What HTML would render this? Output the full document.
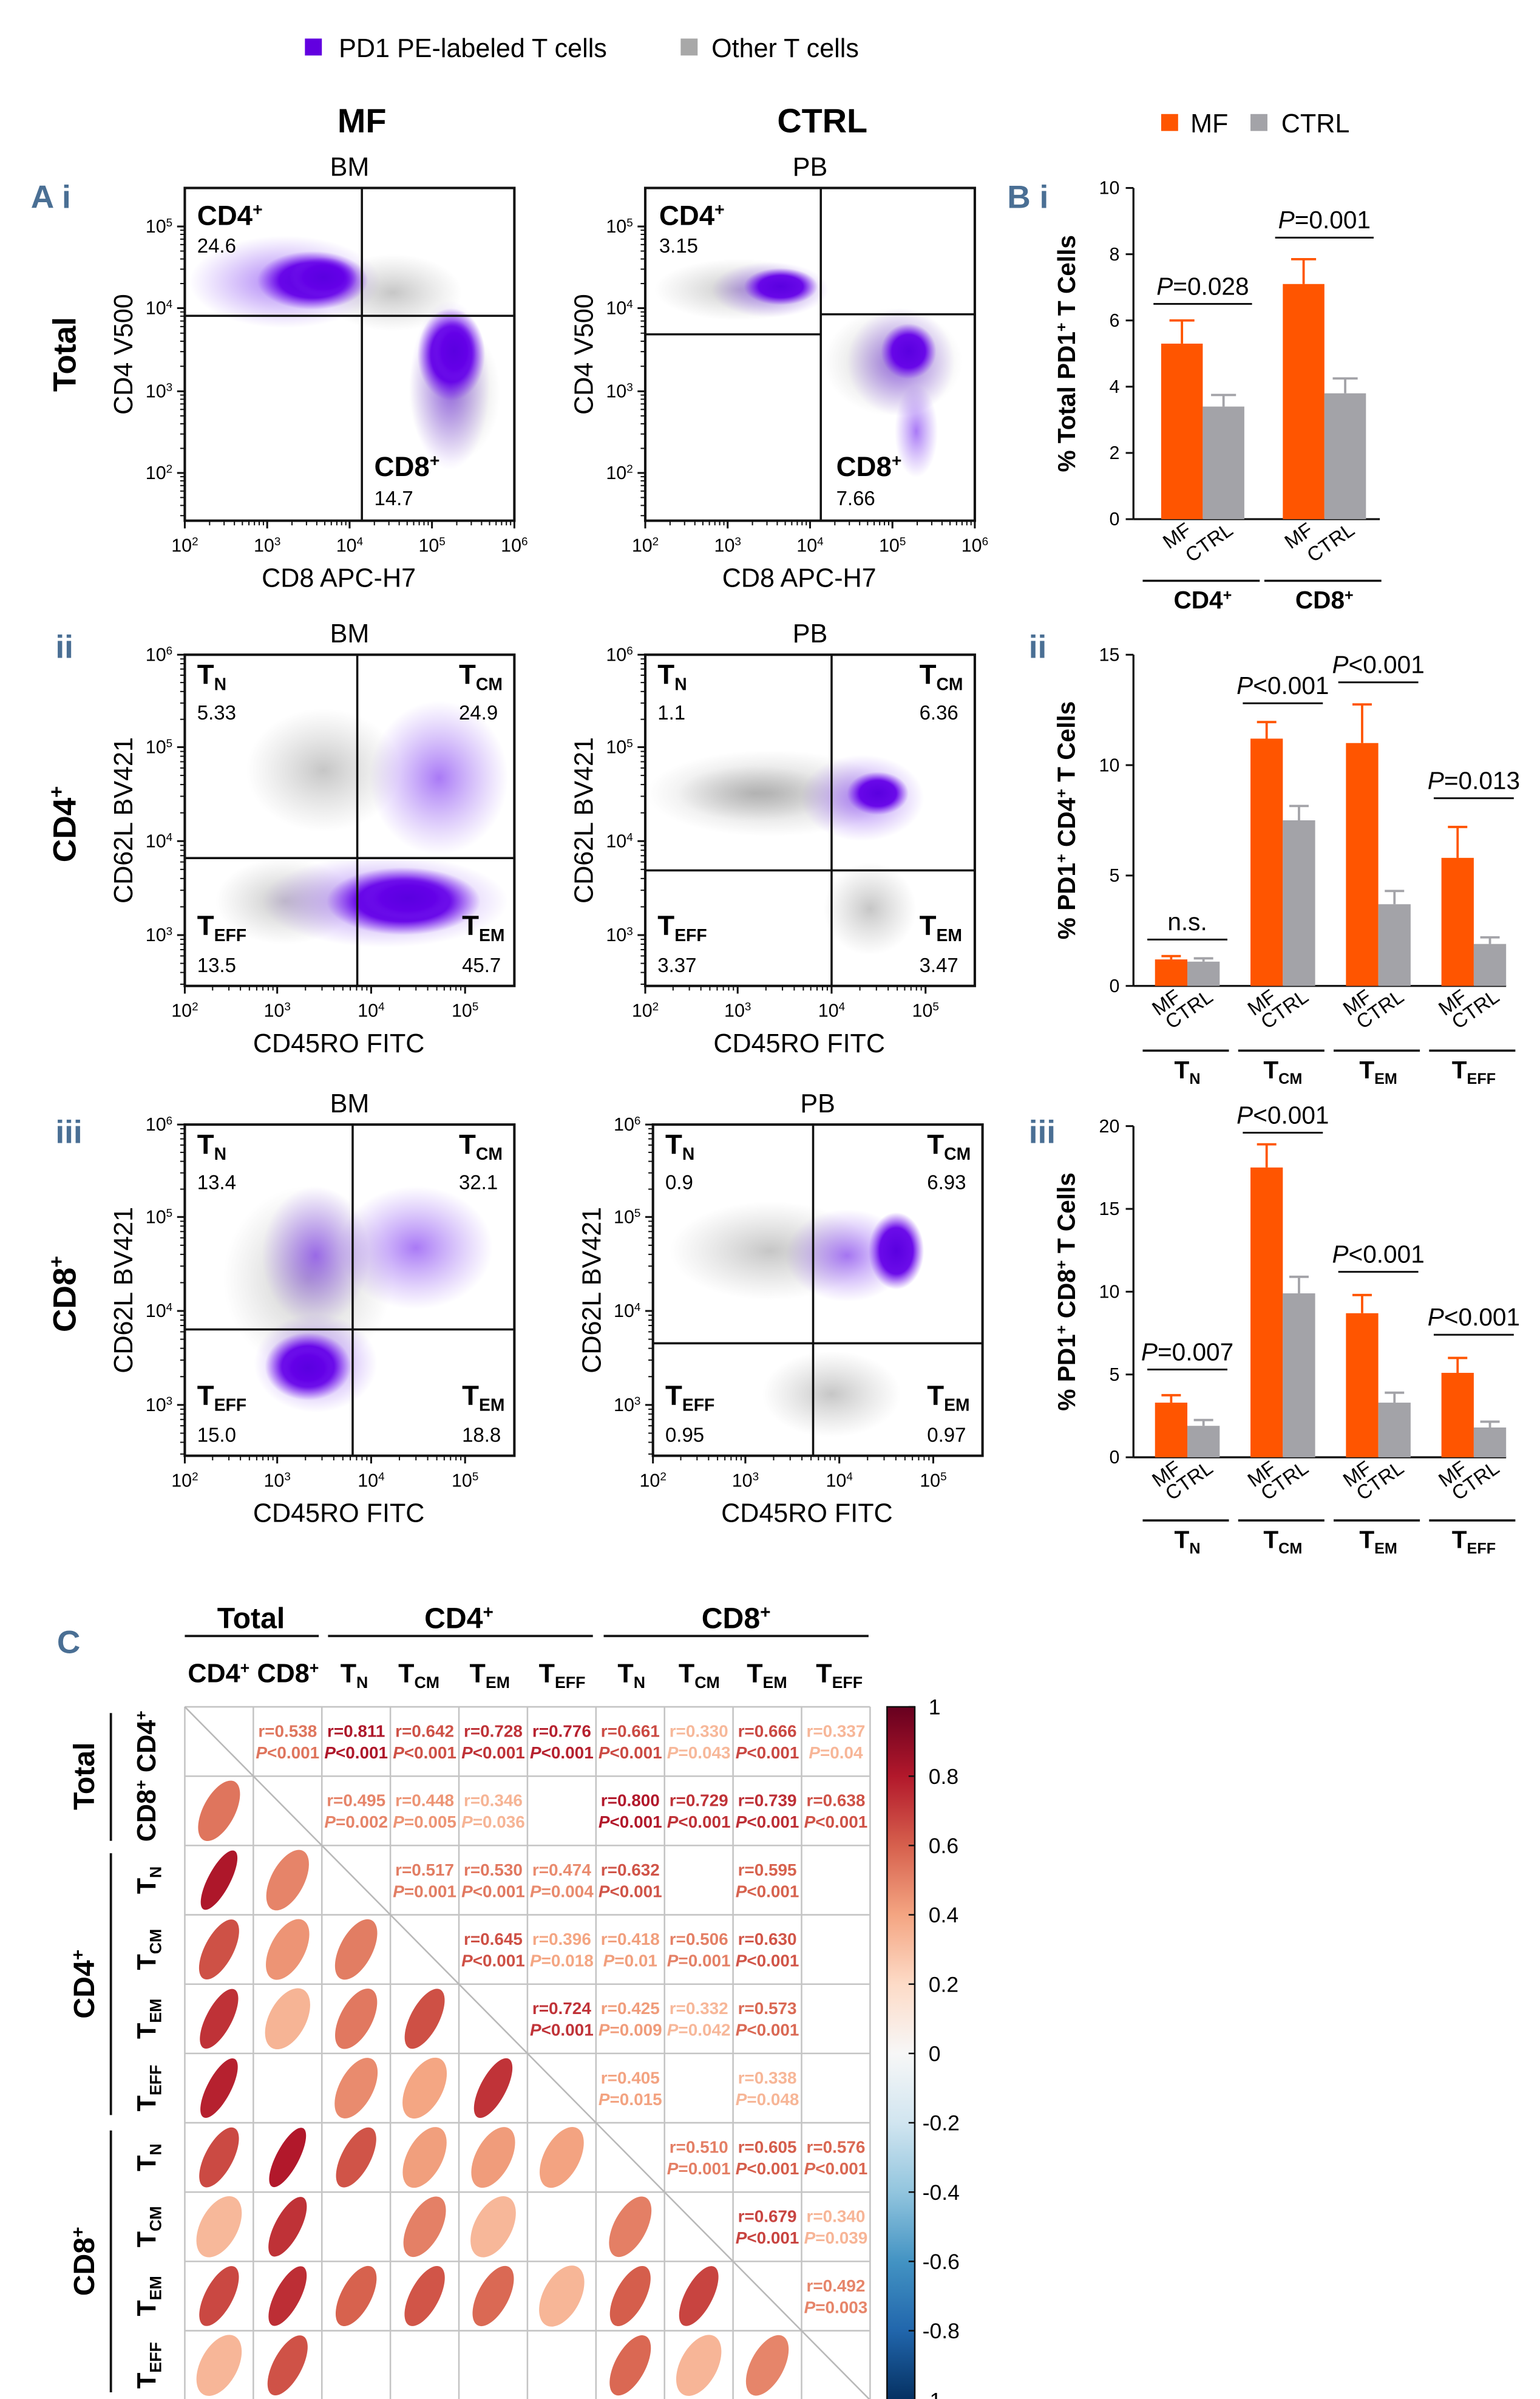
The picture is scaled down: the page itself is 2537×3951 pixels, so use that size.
<!DOCTYPE html>
<html><head><meta charset="utf-8"><style>
html,body{margin:0;padding:0;background:#fff}
svg{display:block}
text{font-family:"Liberation Sans",sans-serif}
.n{font-family:"Liberation Sans Narrow","Liberation Sans",sans-serif}
</style></head><body>
<svg id="fig" xmlns="http://www.w3.org/2000/svg" width="2537" height="3951" viewBox="0 0 1000 1557.3">
<defs>
<radialGradient id="gp"><stop offset="0" stop-color="#5a00e0" stop-opacity="1"/><stop offset="0.6" stop-color="#6400e8" stop-opacity="0.95"/><stop offset="1" stop-color="#7a20f0" stop-opacity="0"/></radialGradient>
<radialGradient id="gpl"><stop offset="0" stop-color="#7020f0" stop-opacity="0.6"/><stop offset="1" stop-color="#8040f0" stop-opacity="0"/></radialGradient>
<radialGradient id="gg"><stop offset="0" stop-color="#a0a0a0" stop-opacity="0.6"/><stop offset="1" stop-color="#b0b0b0" stop-opacity="0"/></radialGradient>
<linearGradient id="cbar" x1="0" y1="0" x2="0" y2="1">
<stop offset="0" stop-color="#67001f"/><stop offset="0.1" stop-color="#b2182b"/><stop offset="0.2" stop-color="#d6604d"/><stop offset="0.3" stop-color="#f4a582"/><stop offset="0.4" stop-color="#fddbc7"/><stop offset="0.5" stop-color="#f7f7f7"/><stop offset="0.6" stop-color="#d1e5f0"/><stop offset="0.7" stop-color="#92c5de"/><stop offset="0.8" stop-color="#4393c3"/><stop offset="0.9" stop-color="#2166ac"/><stop offset="1" stop-color="#053061"/>
</linearGradient>
</defs>
<g id="static">
<rect x="198" y="25" width="11" height="11" fill="#6200e0"/>
<text x="220" y="37" font-size="17">PD1 PE-labeled T cells</text>
<rect x="442" y="25" width="11" height="11" fill="#a8a8a8"/>
<text x="462" y="37" font-size="17">Other T cells</text>
<text x="235" y="86" font-size="22" font-weight="bold" text-anchor="middle">MF</text>
<text x="534" y="86" font-size="22" font-weight="bold" text-anchor="middle">CTRL</text>
<text x="20" y="135" font-size="21" font-weight="bold" fill="#4a6f94" class="n">A i</text>
<text x="654" y="135" font-size="21" font-weight="bold" fill="#4a6f94" class="n">B i</text>
<text x="36" y="427" font-size="21" font-weight="bold" fill="#4a6f94" class="n">ii</text>
<text x="668" y="427" font-size="21" font-weight="bold" fill="#4a6f94" class="n">ii</text>
<text x="36" y="742" font-size="21" font-weight="bold" fill="#4a6f94" class="n">iii</text>
<text x="668" y="742" font-size="21" font-weight="bold" fill="#4a6f94" class="n">iii</text>
<text x="37" y="1073" font-size="21" font-weight="bold" fill="#4a6f94" class="n">C</text>
<text transform="translate(49,230) rotate(-90)" font-size="21" font-weight="bold" text-anchor="middle">Total</text>
<text transform="translate(49,535) rotate(-90)" font-size="21" font-weight="bold" text-anchor="middle">CD4<tspan font-size="13" dy="-8">+</tspan></text>
<text transform="translate(49,840) rotate(-90)" font-size="21" font-weight="bold" text-anchor="middle">CD8<tspan font-size="13" dy="-8">+</tspan></text>
<rect x="754" y="74" width="11" height="11" fill="#ff5500"/>
<text x="773" y="86" font-size="17">MF</text>
<rect x="812" y="74" width="11" height="11" fill="#a3a3a8"/>
<text x="832" y="86" font-size="17">CTRL</text>
</g>
<g id="flow"></g>
<g id="bars"></g>
<g id="corr"></g>
</svg>
<script>
const NS='http://www.w3.org/2000/svg';
function mk(tag,attrs,parent,txt){const e=document.createElementNS(NS,tag);for(const k in attrs)e.setAttribute(k,attrs[k]);if(txt!==undefined)e.textContent=txt;if(parent)parent.appendChild(e);return e;}
function sup(parent,base,s){parent.textContent='';parent.appendChild(document.createTextNode(base));mk('tspan',{'font-size':'62%',dy:'-0.55em'},parent,s);}
function subT(parent,s){parent.textContent='';parent.appendChild(document.createTextNode('T'));mk('tspan',{'font-size':'62%',dy:'0.35em'},parent,s);}

const flowPanels=[
 {name:'total-bm',x0:120,x1:334,y0:122,y1:338,title:'BM',xt:'CD8 APC-H7',yt:'CD4 V500',xexp:[2,3,4,5,6],yexp:[5,4,3,2],yTickY:[147,200,254,307],vx:235,hy:[205,205],
  labels:[['CD4','+',128,146,true],['24.6','',128,164,false],['CD8','+',243,309,true],['14.7','',243,328,false]],
  blobs:[['gg',255,190,45,25],['gpl',185,183,62,30],['gp',203,182,36,19],['gp',210,180,22,13],['gg',295,255,30,45],['gpl',292,250,26,55],['gp',293,230,22,30],['gp',295,228,14,20]]},
 {name:'total-pb',x0:419,x1:633,y0:122,y1:338,title:'PB',xt:'CD8 APC-H7',yt:'CD4 V500',xexp:[2,3,4,5,6],yexp:[5,4,3,2],yTickY:[147,200,254,307],vx:533,hy:[217,204],
  labels:[['CD4','+',428,146,true],['3.15','',428,164,false],['CD8','+',543,309,true],['7.66','',543,328,false]],
  blobs:[['gg',480,188,55,20],['gpl',500,188,38,18],['gp',507,186,24,12],['gg',580,235,45,35],['gpl',585,235,35,35],['gp',590,228,18,18],['gpl',595,280,14,30]]},
 {name:'cd4-bm',x0:120,x1:334,y0:425,y1:640,title:'BM',xt:'CD45RO FITC',yt:'CD62L BV421',xexp:[2,3,4,5],xTickX:[120,180,241,302],yexp:[6,5,4,3],yTickY:[425,485,546,607],vx:232,hy:[557,557],
  labels:[['T','N',128,444,'t'],['5.33','',128,467,false],['T','CM',298,444,'t'],['24.9','',298,467,false],['T','EFF',128,607,'t'],['13.5','',128,631,false],['T','EM',300,607,'t'],['45.7','',300,631,false]],
  blobs:[['gg',210,500,50,40],['gpl',285,505,45,50],['gg',185,585,45,28],['gpl',250,585,80,30],['gp',262,585,50,22],['gp',265,583,30,14]]},
 {name:'cd4-pb',x0:419,x1:633,y0:425,y1:640,title:'PB',xt:'CD45RO FITC',yt:'CD62L BV421',xexp:[2,3,4,5],xTickX:[419,479,540,601],yexp:[6,5,4,3],yTickY:[425,485,546,607],vx:540,hy:[565,565],
  labels:[['T','N',427,444,'t'],['1.1','',427,467,false],['T','CM',597,444,'t'],['6.36','',597,467,false],['T','EFF',427,607,'t'],['3.37','',427,631,false],['T','EM',597,607,'t'],['3.47','',597,631,false]],
  blobs:[['gg',500,515,80,28],['gg',490,515,50,18],['gpl',560,518,40,28],['gp',570,515,20,14],['gg',565,590,30,30]]},
 {name:'cd8-bm',x0:120,x1:334,y0:730,y1:945,title:'BM',xt:'CD45RO FITC',yt:'CD62L BV421',xexp:[2,3,4,5],xTickX:[120,180,241,302],yexp:[6,5,4,3],yTickY:[730,790,851,912],vx:229,hy:[863,863],
  labels:[['T','N',128,749,'t'],['13.4','',128,772,false],['T','CM',298,749,'t'],['32.1','',298,772,false],['T','EFF',128,912,'t'],['15.0','',128,936,false],['T','EM',300,912,'t'],['18.8','',300,936,false]],
  blobs:[['gg',200,830,55,60],['gpl',205,815,35,45],['gpl',270,810,50,40],['gpl',205,885,40,32],['gp',200,887,28,22],['gp',200,888,18,14]]},
 {name:'cd8-pb',x0:424,x1:638,y0:730,y1:945,title:'PB',xt:'CD45RO FITC',yt:'CD62L BV421',xexp:[2,3,4,5],xTickX:[424,484,545,606],yexp:[6,5,4,3],yTickY:[730,790,851,912],vx:528,hy:[872,872],
  labels:[['T','N',432,749,'t'],['0.9','',432,772,false],['T','CM',602,749,'t'],['6.93','',602,772,false],['T','EFF',432,912,'t'],['0.95','',432,936,false],['T','EM',602,912,'t'],['0.97','',602,936,false]],
  blobs:[['gg',500,812,65,32],['gpl',550,815,40,30],['gp',582,812,18,25],['gg',540,905,45,28]]}
];
const flowG=document.getElementById('flow');
flowPanels.forEach(p=>{
  const g=mk('g',{},flowG);
  
  
  const cg=mk('g',{},g);
  p.blobs.forEach(b=>{const e=mk('ellipse',{cx:b[1],cy:b[2],rx:b[3],ry:b[4],fill:'url(#'+b[0]+')'},cg);
    
    });
  const fr=mk('rect',{x:p.x0,y:p.y0,width:p.x1-p.x0,height:p.y1-p.y0,fill:'none',stroke:'#111','stroke-width':1.6},g);
  
  
  const vl=mk('line',{x1:p.vx,x2:p.vx,y1:p.y0,y2:p.y1,stroke:'#111','stroke-width':1.4},g);
  
  
  mk('line',{x1:p.x0,x2:p.vx,y1:p.hy[0],y2:p.hy[0],stroke:'#111','stroke-width':1.4},g);
  mk('line',{x1:p.vx,x2:p.x1,y1:p.hy[1],y2:p.hy[1],stroke:'#111','stroke-width':1.4},g);
  const t=mk('text',{x:(p.x0+p.x1)/2,y:p.y0-8,'font-size':17,'text-anchor':'middle'},g,p.title);
  
  
  const n=p.xexp.length;
  p.xexp.forEach((e,i)=>{const x=p.xTickX?p.xTickX[i]:p.x0+(p.x1-p.x0)*i/(n-1);
    mk('line',{x1:x,x2:x,y1:p.y1,y2:p.y1+5,stroke:'#111','stroke-width':1.2},g);
    if(i<n-1){const nx=p.xTickX?p.xTickX[i+1]:p.x0+(p.x1-p.x0)*(i+1)/(n-1);for(let k=2;k<10;k++){const mx=x+(nx-x)*Math.log10(k);if(mx<=p.x1)mk('line',{x1:mx,x2:mx,y1:p.y1,y2:p.y1+3,stroke:'#111','stroke-width':0.8},g);}}
    const tl=mk('text',{x:x,y:p.y1+20,'font-size':12,'text-anchor':'middle'},g);sup(tl,'10',String(e));
    
  });
  p.yexp.forEach((e,i)=>{const y=p.yTickY[i];
    mk('line',{x1:p.x0-5,x2:p.x0,y1:y,y2:y,stroke:'#111','stroke-width':1.2},g);
    const ny=p.yTickY[i+1]!==undefined?p.yTickY[i+1]:y+(y-p.yTickY[i-1]);
    for(let k=2;k<10;k++){const my=ny-(ny-y)*Math.log10(k);if(my<=p.y1&&my>=p.y0)mk('line',{x1:p.x0-3,x2:p.x0,y1:my,y2:my,stroke:'#111','stroke-width':0.8},g);}
    const tl=mk('text',{x:p.x0-8,y:y+4,'font-size':12,'text-anchor':'end'},g);sup(tl,'10',String(e));
    
  });
  const xt=mk('text',{x:(p.x0+p.x1)/2-7,y:p.y1+43,'font-size':17,'text-anchor':'middle'},g,p.xt);
  
  const yt=mk('text',{transform:`translate(${p.x0-34},${(p.y0+p.y1)/2}) rotate(-90)`,'font-size':17,'text-anchor':'middle'},g,p.yt);
  
  p.labels.forEach(l=>{
    const tx=mk('text',{x:l[2],y:l[3],'font-size':l[4]===false?13:18,'font-weight':l[4]===false?'normal':'bold'},g);
    if(l[4]==='t')subT(tx,l[1]);else if(l[4]===true)sup(tx,l[0],l[1]);else tx.textContent=l[0];
    
    
  });
});

const catsBi=['CD4+','CD8+'];
const mfBi=[5.3,7.1];
const ctrlBi=[3.4,3.8];
const mfErrBi=[0.7,0.75];
const ctrlErrBi=[0.35,0.45];
const sigTextBi=['P=0.028','P=0.001'];
const sigLevelBi=[6.5,8.5];
const ticksBi=[0,2,4,6,8,10];

const catsBii=['N','CM','EM','EFF'];
const mfBii=[1.2,11.2,11.0,5.8];
const ctrlBii=[1.1,7.5,3.7,1.9];
const mfErrBii=[0.15,0.75,1.75,1.4];
const ctrlErrBii=[0.15,0.65,0.6,0.3];
const sigTextBii=['n.s.','P<0.001','P<0.001','P=0.013'];
const sigLevelBii=[2.1,12.8,13.75,8.5];
const ticksBii=[0,5,10,15];

const catsBiii=['N','CM','EM','EFF'];
const mfBiii=[3.3,17.5,8.7,5.1];
const ctrlBiii=[1.9,9.9,3.3,1.8];
const mfErrBiii=[0.45,1.4,1.1,0.9];
const ctrlErrBiii=[0.35,1.0,0.6,0.35];
const sigTextBiii=['P=0.007','P<0.001','P<0.001','P<0.001'];
const sigLevelBiii=[5.3,19.6,11.2,7.4];
const ticksBiii=[0,5,10,15,20];

const barsG=document.getElementById('bars');
function barChart(cfg){
  const g=mk('g',{},barsG);
  
  
  const max=cfg.ticks[cfg.ticks.length-1];
  const yS=v=>cfg.yb-(cfg.yb-cfg.yt)*v/max;
  const groupX=i=>cfg.gx0+i*cfg.gstep;
  mk('line',{x1:cfg.ax,x2:cfg.ax,y1:cfg.yt,y2:cfg.yb,stroke:'#111','stroke-width':1.3},g);
  mk('line',{x1:cfg.ax,x2:cfg.ax+cfg.axLen,y1:cfg.yb,y2:cfg.yb,stroke:'#111','stroke-width':1.3},g);
  cfg.ticks.forEach(v=>{const y=yS(v);mk('line',{x1:cfg.ax-5,x2:cfg.ax,y1:y,y2:y,stroke:'#111','stroke-width':1.2},g);
    const t=mk('text',{x:cfg.ax-9,y:y+4,'font-size':12,'text-anchor':'end'},g,String(v));
    });
  const yl=mk('text',{transform:`translate(${cfg.ax-38},${(cfg.yt+cfg.yb)/2}) rotate(-90)`,'font-size':16,'font-weight':'bold','text-anchor':'middle'},g);
  cfg.ylab(yl);
  
  cfg.cats.forEach((c,i)=>{
    const gx=groupX(i);
    [[cfg.mf[i],cfg.mfErr[i],'#ff5500','MF'],[cfg.ctrl[i],cfg.ctrlErr[i],'#a3a3a8','CTRL']].forEach((s,k)=>{
      const x=gx+k*cfg.bw, y=yS(s[0]);
      const r=mk('rect',{x:x,y:y,width:cfg.bw,height:cfg.yb-y,fill:s[2]},g);
      
      
      const cx=x+cfg.bw/2, ye=yS(s[0]+s[1]);
      mk('line',{x1:cx,x2:cx,y1:y,y2:ye,stroke:s[2],'stroke-width':1.5},g);
      mk('line',{x1:cx-cfg.bw*0.3,x2:cx+cfg.bw*0.3,y1:ye,y2:ye,stroke:s[2],'stroke-width':1.5},g);
      const tl=mk('text',{transform:`translate(${cx+7},${cfg.yb+9}) rotate(-35)`,'font-size':13,'text-anchor':'end'},g,s[3]);
      
    });
    const gw=cfg.bw*2;
    mk('line',{x1:gx-cfg.ulPad,x2:gx+gw+cfg.ulPad-2,y1:cfg.ulY,y2:cfg.ulY,stroke:'#111','stroke-width':1.4},g);
    const gl=mk('text',{x:gx+gw/2,y:cfg.ulY+18,'font-size':16,'font-weight':'bold','text-anchor':'middle'},g);
    if(cfg.tsub)subT(gl,c);else sup(gl,c.replace('+',''),'+');
    
    const sy=yS(cfg.sigLevel[i]);
    mk('line',{x1:gx-5,x2:gx+gw+5,y1:sy,y2:sy,stroke:'#111','stroke-width':1.2},g);
    const st=mk('text',{x:gx+gw/2,y:sy-6,'font-size':16,'text-anchor':'middle'},g);
    const s=cfg.sigText[i];
    if(s[0]==='P'){mk('tspan',{'font-style':'italic'},st,'P');st.appendChild(document.createTextNode(s.slice(1)));}else st.textContent=s;
    
  });
}
barChart({name:'bar-chart-total',cats:catsBi,mf:mfBi,ctrl:ctrlBi,mfErr:mfErrBi,ctrlErr:ctrlErrBi,sigText:sigTextBi,sigLevel:sigLevelBi,ticks:ticksBi,
 ax:736,axLen:160,yt:122,yb:337,gx0:754,gstep:79,bw:27,ulY:377,ulPad:12,tsub:false,
 ylab:t=>{t.appendChild(document.createTextNode('% Total PD1'));mk('tspan',{'font-size':'62%',dy:'-0.55em'},t,'+');mk('tspan',{dy:'0.34em'},t,' T Cells');}});
barChart({name:'bar-chart-cd4',cats:catsBii,mf:mfBii,ctrl:ctrlBii,mfErr:mfErrBii,ctrlErr:ctrlErrBii,sigText:sigTextBii,sigLevel:sigLevelBii,ticks:ticksBii,
 ax:736,axLen:242,yt:425,yb:640,gx0:750,gstep:62,bw:21,ulY:682,ulPad:8,tsub:true,
 ylab:t=>{t.appendChild(document.createTextNode('% PD1'));mk('tspan',{'font-size':'62%',dy:'-0.55em'},t,'+');mk('tspan',{dy:'0.34em'},t,' CD4');mk('tspan',{'font-size':'62%',dy:'-0.55em'},t,'+');mk('tspan',{dy:'0.34em'},t,' T Cells');}});
barChart({name:'bar-chart-cd8',cats:catsBiii,mf:mfBiii,ctrl:ctrlBiii,mfErr:mfErrBiii,ctrlErr:ctrlErrBiii,sigText:sigTextBiii,sigLevel:sigLevelBiii,ticks:ticksBiii,
 ax:736,axLen:242,yt:731,yb:946,gx0:750,gstep:62,bw:21,ulY:987,ulPad:8,tsub:true,
 ylab:t=>{t.appendChild(document.createTextNode('% PD1'));mk('tspan',{'font-size':'62%',dy:'-0.55em'},t,'+');mk('tspan',{dy:'0.34em'},t,' CD8');mk('tspan',{'font-size':'62%',dy:'-0.55em'},t,'+');mk('tspan',{dy:'0.34em'},t,' T Cells');}});

const corrLabels=['CD4+','CD8+','N','CM','EM','EFF','N','CM','EM','EFF'];
const corrR=[
 [0,1,0.538,'<0.001'],[0,2,0.811,'<0.001'],[0,3,0.642,'<0.001'],[0,4,0.728,'<0.001'],[0,5,0.776,'<0.001'],[0,6,0.661,'<0.001'],[0,7,0.330,'=0.043'],[0,8,0.666,'<0.001'],[0,9,0.337,'=0.04'],
 [1,2,0.495,'=0.002'],[1,3,0.448,'=0.005'],[1,4,0.346,'=0.036'],[1,6,0.800,'<0.001'],[1,7,0.729,'<0.001'],[1,8,0.739,'<0.001'],[1,9,0.638,'<0.001'],
 [2,3,0.517,'=0.001'],[2,4,0.530,'<0.001'],[2,5,0.474,'=0.004'],[2,6,0.632,'<0.001'],[2,8,0.595,'<0.001'],
 [3,4,0.645,'<0.001'],[3,5,0.396,'=0.018'],[3,6,0.418,'=0.01'],[3,7,0.506,'=0.001'],[3,8,0.630,'<0.001'],
 [4,5,0.724,'<0.001'],[4,6,0.425,'=0.009'],[4,7,0.332,'=0.042'],[4,8,0.573,'<0.001'],
 [5,6,0.405,'=0.015'],[5,8,0.338,'=0.048'],
 [6,7,0.510,'=0.001'],[6,8,0.605,'<0.001'],[6,9,0.576,'<0.001'],
 [7,8,0.679,'<0.001'],[7,9,0.340,'=0.039'],
 [8,9,0.492,'=0.003']];
const cbTicks=[1,0.8,0.6,0.4,0.2,0,-0.2,-0.4,-0.6,-0.8,-1];
const cStops=[[-1,[5,48,97]],[-0.8,[33,102,172]],[-0.6,[67,147,195]],[-0.4,[146,197,222]],[-0.2,[209,229,240]],[0,[247,247,247]],[0.2,[253,219,199]],[0.4,[244,165,130]],[0.6,[214,96,77]],[0.8,[178,24,43]],[1,[103,0,31]]];
function rcol(r){for(let i=0;i<cStops.length-1;i++){const a=cStops[i],b=cStops[i+1];if(r>=a[0]&&r<=b[0]){const t=(r-a[0])/(b[0]-a[0]);return 'rgb('+a[1].map((v,k)=>Math.round(v+(b[1][k]-v)*t)).join(',')+')';}}return '#000';}
const cg=document.getElementById('corr');
const MX0=120,MY0=1108,CW=44.5,CH=45,N=10;
const cx=j=>MX0+j*CW, cy=i=>MY0+i*CH;
for(let i=0;i<=N;i++){
  mk('line',{x1:cx(0),x2:cx(N),y1:cy(i),y2:cy(i),stroke:'#c4c4c4','stroke-width':1},cg);
  mk('line',{x1:cx(i),x2:cx(i),y1:cy(0),y2:cy(N),stroke:'#c4c4c4','stroke-width':1},cg);
}
mk('line',{x1:cx(0),y1:cy(0),x2:cx(N),y2:cy(N),stroke:'#b8b8b8','stroke-width':1},cg);
corrR.forEach(d=>{
  const [i,j,r,p]=d, col=rcol(r);
  const t=mk('text',{x:cx(j)+CW/2,y:cy(i)+CH/2-3,'font-size':11,'font-weight':'bold','text-anchor':'middle',fill:col,class:'n'},cg,'r='+r.toFixed(3));
  
  
  const pt=mk('text',{x:cx(j)+CW/2,y:cy(i)+CH/2+11,'font-size':11,'font-weight':'bold','text-anchor':'middle',fill:col,class:'n'},cg);
  mk('tspan',{'font-style':'italic'},pt,'P');pt.appendChild(document.createTextNode(p));
  
  const ex=cx(i)+CW/2, ey=cy(j)+CH/2;
  const e=mk('ellipse',{cx:0,cy:0,rx:21.5,ry:Math.max(4,13*Math.sqrt(1-r)+1.5),fill:col,transform:`translate(${ex},${ey}) rotate(-62)`},cg);
  
  
});
const hdrX=[142,187,230,272,318,365,410,454,498,545];
corrLabels.forEach((l,k)=>{
  const t=mk('text',{x:hdrX[k],y:1092,'font-size':17,'font-weight':'bold','text-anchor':'middle',class:'n'},cg);
  if(k<2)sup(t,l.replace('+',''),'+');else subT(t,l);
  
  const yy=cy(k)+CH/2;
  const rt=mk('text',{transform:`translate(${101},${yy}) rotate(-90)`,'font-size':17,'font-weight':'bold','text-anchor':'middle',class:'n'},cg);
  if(k<2)sup(rt,l.replace('+',''),'+');else subT(rt,l);
  
});
[['Total',120,207,163,false],['CD4',213,385,298,true],['CD8',392,564,478,true]].forEach(h=>{
  mk('line',{x1:h[1],x2:h[2],y1:1062,y2:1062,stroke:'#111','stroke-width':1.5},cg);
  const t=mk('text',{x:h[3],y:1057,'font-size':19,'font-weight':'bold','text-anchor':'middle'},cg);
  if(h[4])sup(t,h[0],'+');else t.textContent=h[0];
  
});
[['Total',1112,1195,1153,false],['CD4',1203,1373,1288,true],['CD8',1383,1553,1468,true]].forEach(h=>{
  mk('line',{x1:72,x2:72,y1:h[1],y2:h[2],stroke:'#111','stroke-width':1.5},cg);
  const t=mk('text',{transform:`translate(61,${h[3]}) rotate(-90)`,'font-size':19,'font-weight':'bold','text-anchor':'middle'},cg);
  if(h[4])sup(t,h[0],'+');else t.textContent=h[0];
  
});
const cb=mk('rect',{x:576,y:MY0,width:18,height:N*CH,fill:'url(#cbar)',stroke:'#111','stroke-width':1},cg);


const cbY=v=>MY0+(1-v)/2*N*CH;
cbTicks.forEach(v=>{const y=cbY(v);
  mk('line',{x1:590,x2:594,y1:y,y2:y,stroke:'#111','stroke-width':1},cg);
  const t=mk('text',{x:v<0?599:603,y:y+5,'font-size':14},cg,String(v));
  });
</script>
</body></html>
